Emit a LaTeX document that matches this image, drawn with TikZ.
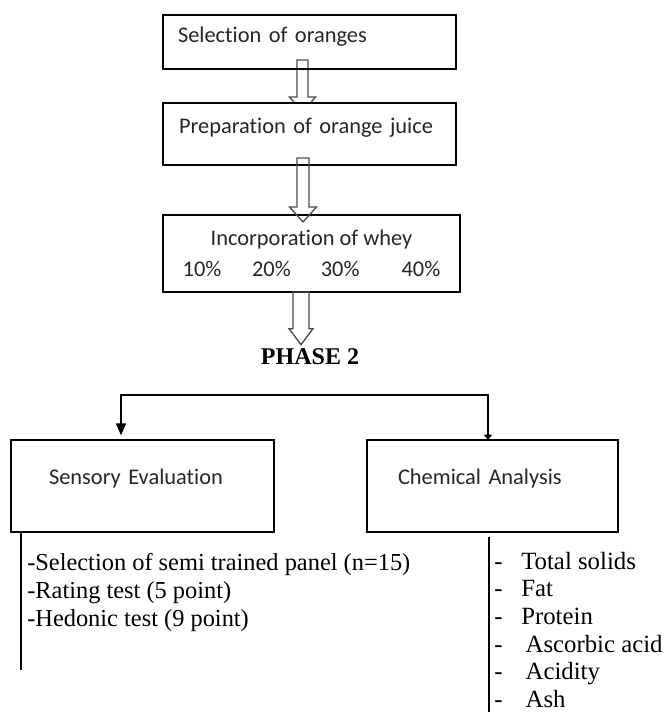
\documentclass[tikz,border=0pt]{standalone}
\usepackage{fontspec}
\setmainfont{Liberation Serif}
\newfontfamily\calibfont[Ligatures=NoCommon]{Carlito}
\usetikzlibrary{arrows.meta,calc}
\pgfdeclarelayer{background}
\pgfsetlayers{background,main}
\tikzset{
  nd_box/.style={rectangle,draw=black,line width=1.2pt,inner ysep=0pt,outer sep=0pt,font=\calibfont\fontsize{16.8}{23.25}\selectfont,text=black!85},
  nd_list/.style={anchor=base west,inner sep=0pt,font=\fontsize{18.3}{21}\selectfont},
  nd_item/.style={anchor=base west,inner sep=0pt,font=\fontsize{18.6}{21}\selectfont},
  blockline/.style={draw=black!70,line width=1pt,line join=miter},
  arr/.style={line width=1.1pt},
}
% hollow block arrow: #1 top, #2 tip, #3 shaft half width, #4 head half width, #5 head length
\newcommand{\blockarrow}[5]{%
  \draw[blockline] ($(#1)+(-#3,0)$) -- ($(#2)+(-#3,-#5)$) -- ($(#2)+(-#4,-#5)$) -- (#2)
    -- ($(#2)+(#4,-#5)$) -- ($(#2)+(#3,-#5)$) -- ($(#1)+(#3,0)$) -- cycle;}

\begin{document}
\begin{tikzpicture}[x=0.75pt,y=-0.75pt]
\useasboundingbox (0,0) rectangle (664,712);
% phase 1
\node[nd_box,text width=197.25pt,inner xsep=11.25pt,minimum height=40.5pt,text height=11pt,text depth=9.5pt,align=left] at (309.5,42)(S1){Selection of oranges};
\node[nd_box,fill=white,text width=195.75pt,inner xsep=12pt,minimum height=46.5pt,text height=11pt,text depth=11pt,align=left] at (309.5,134)(S2){Preparation of orange juice};
\node[nd_box,minimum width=222.75pt,minimum height=57.75pt,align=center] at (311.5,253.5)(S3){Incorporation of whey\\10\%\hspace{23pt}20\%\hspace{22.5pt}30\%\hspace{31.5pt}40\%};
\node[font=\bfseries\fontsize{18}{20}\selectfont,inner sep=0pt] at (310,357)(PH){PHASE 2};
% phase 2
\node[nd_box,text width=140.25pt,inner xsep=28.5pt,minimum height=69pt,text height=11pt,text depth=14pt,align=left] at (142.5,486)(SE){Sensory Evaluation};
\node[nd_box,text width=141.75pt,inner xsep=23.25pt,minimum height=69pt,text height=11pt,text depth=14pt,align=left] at (492.5,486)(CA){Chemical Analysis};
% lists
\foreach \txt [count=\i from 0] in {{-Selection of semi trained panel (n=15)},{-Rating test (5 point)},{-Hedonic test (9 point)}}
  {\node[nd_list] at (27,{570+28.3*\i})(SL\i){\txt};}
\foreach \d/\txt [count=\i from 0] in {20.25pt/Total solids,20.25pt/Fat,20.25pt/Protein,23.5pt/Ascorbic acid,23.5pt/Acidity,23.5pt/Ash}
  {\node[nd_item] at (494,{569+27.7*\i})(CL\i){\makebox[\d][l]{-}\txt};}
% block arrows
\coordinate (A1top) at ($(S1.south)+(-7,-9)$);
\coordinate (A1tip) at ($(S2.north)+(-7,9)$);
\coordinate (A2top) at ($(S2.south)+(-6.5,-7)$);
\coordinate (A2tip) at ($(S3.north)+(-8.5,7)$);
\coordinate (A3top) at ($(S3.south)+(-10.5,0)$);
\coordinate (A3tip) at ($(PH.north)+(-9,-4)$);
\begin{pgfonlayer}{background}
\blockarrow{A1top}{A1tip}{5.5}{13}{15}
\end{pgfonlayer}
\blockarrow{A2top}{A2tip}{6}{13.5}{15}
\blockarrow{A3top}{A3tip}{8}{12}{16}
% split
\coordinate (barL) at ($(SE.north)+(-21.5,-45)$);
\coordinate (barR) at ($(CA.north)+(-4.5,-45)$);
\draw[arr,{Triangle[length=9pt,width=7.5pt]}-{Triangle[length=4pt,width=6pt]},shorten <=3.5pt](SE.north -| barL) |- (barR) -- (CA.north -| barR);
% side lines
\coordinate (SEend) at ($(SE.south west)+(10,138)$);
\coordinate (CAend) at ($(CA.south west)+(122,180)$);
\draw[arr](SEend |- SE.south) -- (SEend);
\draw[arr]($(CA.south west)+(122,5)$) -- (CAend);
\end{tikzpicture}
\end{document}
